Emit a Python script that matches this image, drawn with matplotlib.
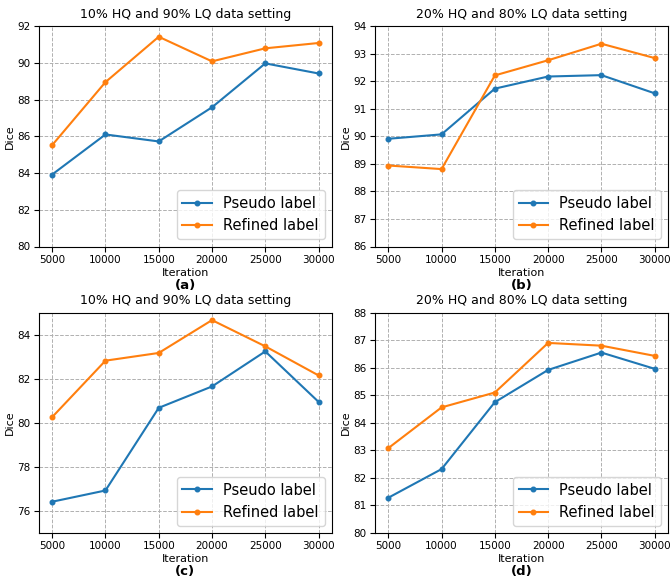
import numpy as np
import matplotlib.pyplot as plt

iters = [5000, 10000, 15000, 20000, 25000, 30000]

titles = ['10% HQ and 90% LQ data setting', '20% HQ and 80% LQ data setting',
          '10% HQ and 90% LQ data setting', '20% HQ and 80% LQ data setting']
tags = ['(a)', '(b)', '(c)', '(d)']

pseudo_a = [83.92, 86.10, 85.72, 87.58, 89.97, 89.42]
refined_a = [85.52, 88.95, 91.42, 90.08, 90.79, 91.08]

pseudo_b = [89.91, 90.07, 91.73, 92.17, 92.22, 91.56]
refined_b = [88.94, 88.81, 92.21, 92.76, 93.36, 92.84]

pseudo_c = [76.42, 76.93, 80.68, 81.65, 83.24, 80.95]
refined_c = [80.26, 82.82, 83.17, 84.66, 83.47, 82.15]

pseudo_d = [81.28, 82.32, 84.75, 85.92, 86.55, 85.96]
refined_d = [83.08, 84.56, 85.10, 86.90, 86.80, 86.43]

pseudo = [pseudo_a, pseudo_b, pseudo_c, pseudo_d]
refined = [refined_a, refined_b, refined_c, refined_d]
ylims = [(80, 92), (86, 94), (75, 85), (80, 88)]
yticks = [np.arange(80, 93, 2), np.arange(86, 95, 1), np.arange(76, 85, 2), np.arange(80, 89, 1)]

fig, axes = plt.subplots(2, 2, figsize=(6.7, 5.8), dpi=100)
fig.subplots_adjust(left=0.058, right=0.997, top=0.955, bottom=0.081, wspace=0.147, hspace=0.30)

for i, ax in enumerate(axes.flat):
    ax.plot(iters, pseudo[i], marker='o', markersize=3.3, lw=1.5, color='#1f77b4', label='Pseudo label')
    ax.plot(iters, refined[i], marker='o', markersize=3.3, lw=1.5, color='#ff7f0e', label='Refined label')
    ax.set_ylim(ylims[i])
    ax.set_yticks(yticks[i])
    ax.set_xticks(iters)
    ax.tick_params(labelsize=7.5, pad=2.5)
    ax.grid(True, linestyle='--', color='#b0b0b0', lw=0.7)
    ax.set_title(titles[i], fontsize=9)
    ax.set_xlabel('Iteration', fontsize=8, labelpad=2)
    ax.set_ylabel('Dice', fontsize=8, labelpad=2)
    ax.legend(loc='lower right', fontsize=10.5)
    ax.text(0.5, -0.175, tags[i], transform=ax.transAxes, ha='center', va='center',
            fontsize=9.5, fontweight='bold')

plt.savefig('out.png')
